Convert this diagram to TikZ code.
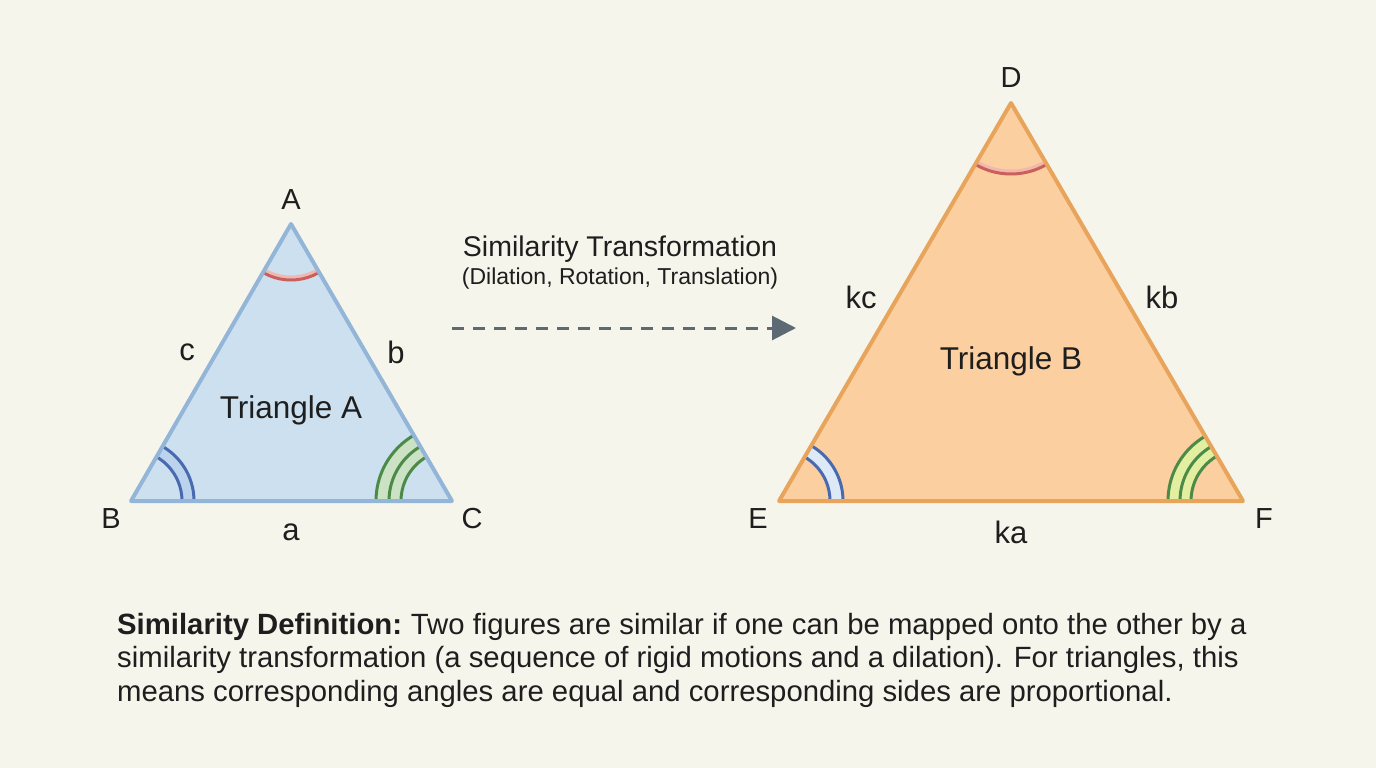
\documentclass[tikz,border=0pt]{standalone}
\usepackage{fontspec}
\setmainfont{Liberation Sans}
\usetikzlibrary{arrows.meta}

\definecolor{bgcol}{HTML}{F5F5EC}
\definecolor{triAfill}{HTML}{CDE0EF}
\definecolor{triAline}{HTML}{93B6D8}
\definecolor{triBfill}{HTML}{FBCF9F}
\definecolor{triBline}{HTML}{E8A45A}
\definecolor{markblue}{HTML}{4A6AAF}
\definecolor{lightblue}{HTML}{BCD3EE}
\definecolor{markgreen}{HTML}{4B8A47}
\definecolor{lightgreen}{HTML}{CBE3C4}
\definecolor{markred}{HTML}{C9605B}
\definecolor{lightred}{HTML}{F2B8B0}
\definecolor{arrowgray}{HTML}{5E6A73}
\definecolor{textcol}{HTML}{1E1E1E}

\begin{document}
\begin{tikzpicture}[x=1pt,y=-1pt,
  vertexlabel/.style={text=textcol,font=\fontsize{29}{32}\selectfont,inner sep=0pt},
  sidelabel/.style={text=textcol,font=\fontsize{31}{34}\selectfont,inner sep=0pt},
  trilabel/.style={text=textcol,font=\fontsize{31.5}{34}\selectfont,inner sep=0pt},
  markline/.style={line width=3pt}]
  \useasboundingbox (0,0) rectangle (1376,768);
  \fill[bgcol] (0,0) rectangle (1376,768);

  \coordinate (A) at (291,224);
  \coordinate (B) at (131,501);
  \coordinate (C) at (452,501);
  \coordinate (D) at (1011,103);
  \coordinate (E) at (779,501);
  \coordinate (F) at (1243,501);

  % triangle A
  \fill[triAfill] (A) -- (B) -- (C) -- cycle;
  \begin{scope}
    \clip (A) -- (B) -- (C) -- cycle;
    \draw[lightred, line width=3pt] (A) circle (53);
    \draw[markred, markline] (A) circle (56);
    \draw[lightblue, line width=12pt] (B) circle (57);
    \draw[markblue, markline] (B) circle (51) (B) circle (63);
    \draw[lightgreen, line width=25pt] (C) circle (63.5);
    \draw[markgreen, markline] (C) circle (51) (C) circle (63) (C) circle (76);
  \end{scope}
  \draw[triAline, line width=4pt, line join=round] (A) -- (B) -- (C) -- cycle;

  % triangle B
  \fill[triBfill] (D) -- (E) -- (F) -- cycle;
  \begin{scope}
    \clip (D) -- (E) -- (F) -- cycle;
    \draw[lightred, line width=3pt] (D) circle (68);
    \draw[markred, markline] (D) circle (71);
    \draw[lightblue!50!white, line width=12pt] (E) circle (57.5);
    \draw[markblue, markline] (E) circle (51) (E) circle (64);
    \draw[lightgreen!70!yellow!80, line width=24pt] (F) circle (63.5);
    \draw[markgreen, markline] (F) circle (52) (F) circle (63) (F) circle (75);
  \end{scope}
  \draw[triBline, line width=4pt, line join=round] (D) -- (E) -- (F) -- cycle;

  % labels
  \node[vertexlabel] (labA) at (291,200) {A};
  \node[vertexlabel] (labB) at (111,519) {B};
  \node[vertexlabel] (labC) at (472,519) {C};
  \node[sidelabel] (sidea) at (291,532) {a};
  \node[sidelabel] (sideb) at (396,352) {b};
  \node[sidelabel] (sidec) at (187,352) {c};
  \node[trilabel] (nameA) at (291,410) {Triangle A};

  \node[vertexlabel] (labD) at (1011,78) {D};
  \node[vertexlabel] (labE) at (758,519) {E};
  \node[vertexlabel] (labF) at (1264,519) {F};
  \node[sidelabel] (sideka) at (1011,532) {ka};
  \node[sidelabel] (sidekb) at (1162,297) {kb};
  \node[sidelabel] (sidekc) at (861,297) {kc};
  \node[trilabel] (nameB) at (1011,361) {Triangle B};

  % transformation arrow
  \node[text=textcol, font=\fontsize{28.5}{31}\selectfont, inner sep=0pt] (simtitle) at (620,249) {Similarity Transformation};
  \node[text=textcol, font=\fontsize{23}{26}\selectfont, inner sep=0pt] (simsub) at (620,279) {(Dilation, Rotation, Translation)};
  \coordinate (arrowstart) at (452,328);
  \coordinate (arrowend) at (796,328);
  \draw[arrowgray, line width=3pt, dash pattern=on 12pt off 9pt,
    -{Triangle[length=24pt,width=24pt]}] (arrowstart) -- (arrowend);

  % definition
  \node[text=textcol, font=\fontsize{29.3}{33.5}\selectfont, inner sep=0pt, anchor=west, align=left] (definition) at (117,660)
    {\textbf{Similarity Definition:}\hspace{-2pt} Two figures are similar if one can be mapped onto the other by a\\
     similarity transformation (a sequence of rigid motions and a dilation). For triangles, this\\
     means corresponding angles are equal and corresponding sides are proportional.};
\end{tikzpicture}
\end{document}
